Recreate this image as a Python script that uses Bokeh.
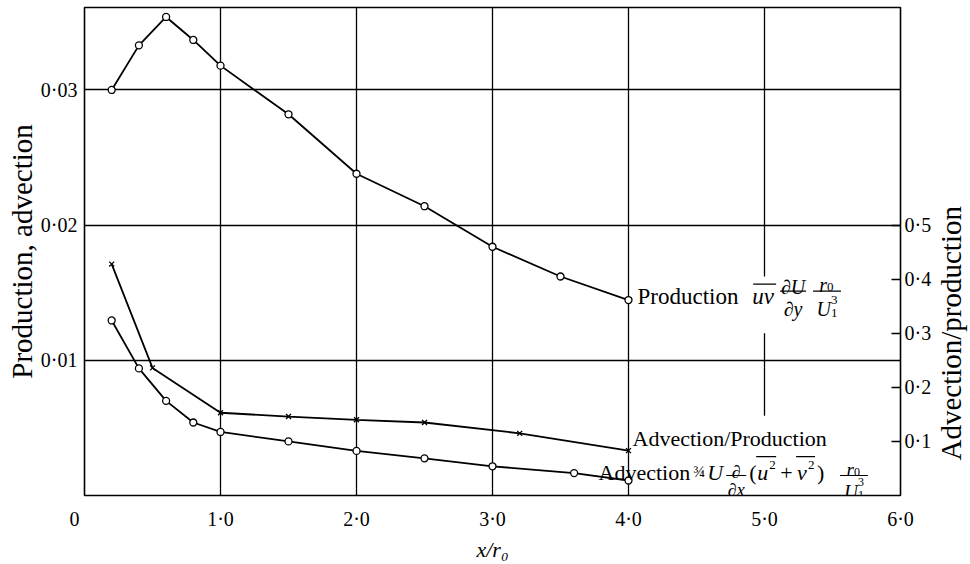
from bokeh.plotting import figure
from bokeh.models import Range1d, LinearAxis, FixedTicker, Label, CustomJSTickFormatter
from bokeh.layouts import row
from bokeh.embed import file_html
from bokeh.resources import INLINE
import math

# ---------------- data ----------------
x_prod = [0.2, 0.4, 0.6, 0.8, 1.0, 1.5, 2.0, 2.5, 3.0, 3.5, 4.0]
production = [0.0300, 0.0333, 0.0354, 0.0337, 0.0318, 0.0282, 0.0238, 0.0214, 0.0184, 0.0162, 0.01446]

x_adv = [0.2, 0.4, 0.6, 0.8, 1.0, 1.5, 2.0, 2.5, 3.0, 3.6, 4.0]
advection = [0.01295, 0.0094, 0.0070, 0.0054, 0.0047, 0.0040, 0.0033, 0.00275, 0.00216, 0.00166, 0.00111]

x_ratio = [0.2, 0.5, 1.0, 1.5, 2.0, 2.5, 3.2, 4.0]
ratio = [0.428, 0.236, 0.153, 0.146, 0.140, 0.135, 0.115, 0.083]

x_ticks = [0, 1, 2, 3, 4, 5, 6]
left_ticks = [0.01, 0.02, 0.03]
right_ticks = [0.1, 0.2, 0.3, 0.4, 0.5]
x_grid = [1, 2, 3, 4]
# broken gridline at x = 5.0 (interrupted by the labels)
grid5_x = [5.0, 5.0]
grid5_top = [0.0361, 0.0120]
grid5_bottom = [0.0162, 0.0059]

# ---------------- layout ----------------
W, H = 934, 564          # main figure; a narrow strip to its right holds the right-hand title
STRIP_W = 36
BL, BR, BT, BB = 84, 32, 7, 67
X_END = 6.0
Y_END = 0.0361
R_END = Y_END * 25
FW, FH = W - BL - BR, H - BT - BB
PX = FW / X_END
PY = FH / Y_END
SERIF = "Liberation Serif"

p = figure(width=W, height=H, x_range=Range1d(0, X_END), y_range=Range1d(0, Y_END),
           output_backend="svg", toolbar_location=None,
           min_border_left=BL, min_border_right=BR, min_border_top=BT, min_border_bottom=BB)
p.extra_y_ranges = {"ratio": Range1d(0, R_END)}
p.background_fill_color = "white"
p.border_fill_color = "white"
p.outline_line_color = "black"
p.outline_line_width = 1.6

# axes
for ax in (p.xaxis[0], p.yaxis[0]):
    ax.axis_line_color = None
    ax.major_tick_in = 0
    ax.major_tick_out = 0
    ax.minor_tick_line_color = None
    ax.major_label_text_font = SERIF
    ax.major_label_text_font_size = "20px"
    ax.major_label_text_color = "black"
    ax.axis_label_text_font = SERIF
    ax.axis_label_text_color = "black"

p.xaxis.ticker = FixedTicker(ticks=x_ticks)
p.xaxis.formatter = CustomJSTickFormatter(code="return tick == 0 ? '0\\u2003' : tick.toFixed(1).replace('.', '\\u00b7');")
p.xaxis.major_label_standoff = 12
p.xaxis.axis_label = "x/r\u2080"
p.xaxis.axis_label_text_font_style = "italic"
p.xaxis.axis_label_text_font_size = "22px"
p.xaxis.axis_label_standoff = 4

p.yaxis.ticker = FixedTicker(ticks=left_ticks)
p.yaxis.formatter = CustomJSTickFormatter(code="return tick.toFixed(2).replace('.', '\\u00b7');")
p.yaxis.major_label_standoff = 7
p.yaxis.axis_label = "Production, advection"
p.yaxis.axis_label_text_font_style = "normal"
p.yaxis.axis_label_text_font_size = "29px"
p.yaxis.axis_label_standoff = 0

rax = LinearAxis(y_range_name="ratio", ticker=FixedTicker(ticks=right_ticks),
                 formatter=CustomJSTickFormatter(code="return tick.toFixed(1).replace('.', '\\u00b7');"))
rax.axis_line_color = None
rax.major_tick_in = 9
rax.major_tick_out = 0
rax.major_tick_line_color = "black"
rax.major_tick_line_width = 1.3
rax.minor_tick_line_color = None
rax.major_label_text_font = SERIF
rax.major_label_text_font_size = "20px"
rax.major_label_text_color = "black"
rax.major_label_standoff = 4
p.add_layout(rax, "right")

# grid
p.xgrid.ticker = FixedTicker(ticks=x_grid)
p.ygrid.ticker = FixedTicker(ticks=left_ticks)
for g in (p.xgrid[0], p.ygrid[0]):
    g.grid_line_color = "black"
    g.grid_line_width = 1.3
    g.grid_line_alpha = 1.0
p.segment(x0=grid5_x, y0=grid5_top, x1=grid5_x, y1=grid5_bottom, line_color="black", line_width=1.3)

# curves
LW = 1.8
p.line(x_prod, production, line_color="black", line_width=LW)
p.scatter(x_prod, production, marker="circle", size=7, fill_color="white", line_color="black", line_width=1.3)
p.line(x_adv, advection, line_color="black", line_width=LW)
p.scatter(x_adv, advection, marker="circle", size=7, fill_color="white", line_color="black", line_width=1.3)
p.line(x_ratio, ratio, y_range_name="ratio", line_color="black", line_width=LW)
p.scatter(x_ratio, ratio, y_range_name="ratio", marker="x", size=7, line_color="black", line_width=1.3)


# ---------------- annotations (offsets in screen px from an anchor data point) ----------------
def pos(ax, ay, dx, dy):
    return ax + dx / PX, ay - dy / PY


def lab(text, anchor, dx, dy, size, style="normal", align="left"):
    x, y = pos(anchor[0], anchor[1], dx, dy)
    p.add_layout(Label(x=x, y=y, text=text, text_font=SERIF, text_font_size=f"{size}px",
                       text_font_style=style, text_align=align, text_baseline="alphabetic",
                       text_color="black"))


def bar(anchor, dx0, dx1, dy, width=1.2):
    x0, y0 = pos(anchor[0], anchor[1], dx0, dy)
    x1, _ = pos(anchor[0], anchor[1], dx1, dy)
    p.segment(x0=[x0], y0=[y0], x1=[x1], y1=[y0], line_color="black", line_width=width)


A = (x_prod[-1], production[-1])            # Production label anchor
B = (x_ratio[-1], ratio[-1] / 25.0)         # Advection/Production anchor (left-axis units)
C = (x_adv[-1], advection[-1])              # Advection label anchor

# Production  uv  dU/dy  r0/U1^3
lab("Production", A, 9, -4, 23)
lab("uv", A, 124, -4, 23, "italic")
bar(A, 125, 148, -16)
bar(A, 152, 178, -9)
lab("\u2202U", A, 165, -13, 20, "italic", "center")
lab("\u2202y", A, 165, 9, 20, "italic", "center")
bar(A, 185, 213, -9)
lab("r", A, 199, -15, 20, "italic", "right")
lab("0", A, 199, -13, 13)
lab("U", A, 203, 9, 20, "italic", "right")
lab("3", A, 203, 0, 13)
lab("1", A, 203, 13, 13)

# Advection/Production
lab("Advection/Production", B, 4, -12, 22)

# Advection 3/4 U d/dx (u^2 + v^2) r0/U1^3
lab("Advection", C, -30, -8, 22)
lab("\u00be", C, 65, -9, 16)
lab("U", C, 79, -8, 22, "italic")
bar(C, 98, 118, -5)
lab("\u2202", C, 108, -9, 18, "italic", "center")
lab("\u2202x", C, 108, 10, 18, "italic", "center")
lab("(", C, 121, -8, 22)
lab("u", C, 129, -8, 22, "italic")
lab("2", C, 141, -16, 13)
bar(C, 128, 148, -24)
lab("+", C, 152, -8, 22)
lab("v", C, 169, -8, 22, "italic")
lab("2", C, 180, -16, 13)
bar(C, 168, 187, -24)
lab(")", C, 189, -8, 22)
bar(C, 212, 240, -5)
lab("r", C, 226, -11, 19, "italic", "right")
lab("0", C, 226, -9, 12)
lab("U", C, 230, 11, 19, "italic", "right")
lab("3", C, 230, 2, 12)
lab("1", C, 230, 15, 12)

# ---------------- right-hand title strip (text reads upwards) ----------------
strip = figure(width=STRIP_W, height=H, x_range=Range1d(0, 1), y_range=Range1d(0, R_END),
               output_backend="svg", toolbar_location=None, x_axis_type=None, y_axis_type=None,
               min_border_left=0, min_border_right=0, min_border_top=BT, min_border_bottom=BB)
strip.outline_line_color = None
strip.grid.visible = False
strip.background_fill_color = "white"
strip.border_fill_color = "white"
strip.add_layout(Label(x=0.45, y=0.3, text="Advection/production", angle=math.pi / 2,
                       text_align="center", text_baseline="middle",
                       text_font=SERIF, text_font_size="29px", text_color="black"))

layout = row(p, strip, spacing=0)
open("out.html", "w").write(file_html(layout, INLINE))
